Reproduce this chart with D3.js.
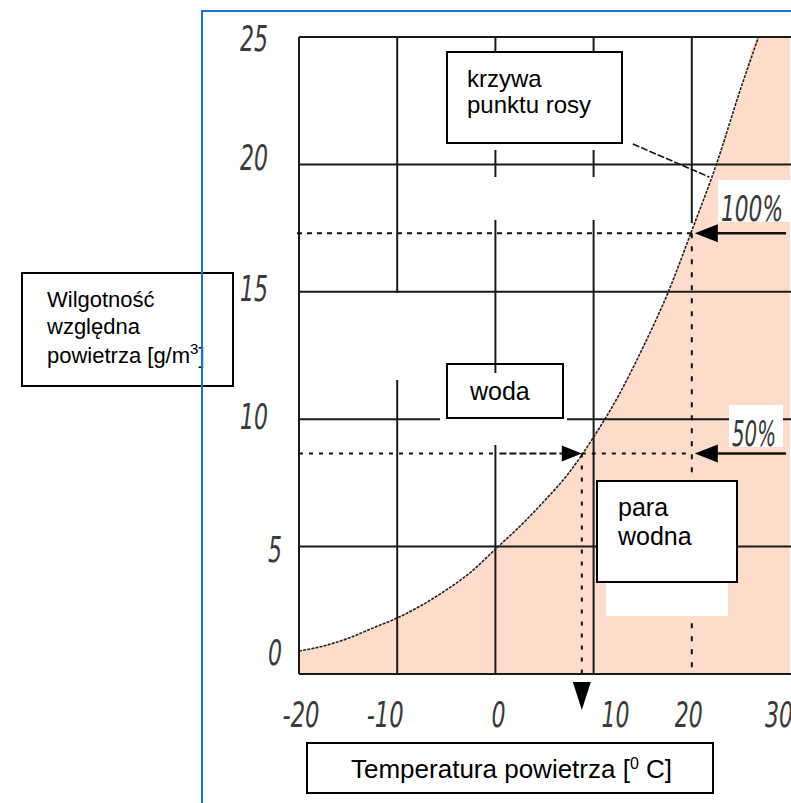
<!DOCTYPE html>
<html>
<head>
<meta charset="utf-8">
<script src="https://cdn.jsdelivr.net/npm/d3@7"></script>
<style>
  body { margin: 0; background: #fff; }
  svg { display: block; }
  .box { fill: #fff; stroke: #000; stroke-width: 2; }
  .boxtext { font-family: "Liberation Sans", Arial, sans-serif; font-size: 24px; fill: #000; }
  .num { font-family: "Liberation Sans Narrow", "DejaVu Sans Condensed", sans-serif;
         font-style: italic; font-size: 35px; fill: #3a3a3a; }
</style>
</head>
<body>
<div id="chart"></div>
<script>
// krzywa punktu rosy - odczyt z wykresu
var tempC      = [-20, -17.5, -15, -12.5, -10, -7.5, -5, -2.5, 0, 2.5, 5, 7.5, 10, 12.5, 15, 17.5, 20, 22.5, 25, 26.8];
var saturation = [0.9, 1.1, 1.4, 1.8, 2.2, 2.7, 3.3, 4.0, 4.9, 5.8, 6.8, 7.9, 9.3, 10.9, 12.8, 14.9, 17.4, 20.0, 23.0, 25.0];

var xTicks = [-20, -10, 0, 10, 20, 30];
var yTicks = [0, 5, 10, 15, 20, 25];

var airTemp = 20;          // temperatura powietrza w przykladzie
var dewTemp = 8.8;         // punkt rosy przy 50%
var levels = [17.3, 8.65]; // 100% i 50% przy 20 C
var levelLabels = ["100%", "50%"];

var W = 791, H = 803;

var svg = d3.select("#chart").append("svg")
    .attr("width", W)
    .attr("height", H);

var x = d3.scaleLinear().domain([-20, 30]).range([299, 790]);
var y = d3.scaleLinear().domain([0, 25]).range([674, 37]);

// blue frame
svg.append("path")
    .attr("d", "M202,803 L202,11 L791,11")
    .attr("fill", "none")
    .attr("stroke", "#1874cd")
    .attr("stroke-width", 2);

// fill under the curve (plus the corner past the top)
var pts = tempC.map(function(t, i) { return [t, saturation[i]]; });
var areaPts = pts.concat([[30, 25]]);

svg.append("path")
    .datum(areaPts)
    .attr("fill", "#fddccb")
    .attr("d", d3.area()
        .x(function(d) { return x(d[0]); })
        .y0(y(0))
        .y1(function(d) { return y(d[1]); })
        .curve(d3.curveMonotoneX));

// grid
var grid = svg.append("g")
    .attr("stroke", "#1a1a1a")
    .attr("stroke-width", 2);

grid.selectAll(".hline")
    .data(yTicks)
    .enter().append("line")
    .attr("x1", x(-20)).attr("x2", W)
    .attr("y1", function(d) { return y(d); })
    .attr("y2", function(d) { return y(d); });

grid.selectAll(".vline")
    .data(xTicks.filter(function(d) { return d < airTemp; }))
    .enter().append("line")
    .attr("x1", function(d) { return x(d); })
    .attr("x2", function(d) { return x(d); })
    .attr("y1", y(25)).attr("y2", y(0));

grid.append("line")
    .attr("x1", x(airTemp)).attr("x2", x(airTemp))
    .attr("y1", y(25)).attr("y2", y(levels[0]) - 10);

// white patches covering the grid (as in the original)
var masks = svg.append("g").attr("fill", "#fff");
masks.append("rect").attr("x", 390).attr("y", 293).attr("width", 16).attr("height", 87);
masks.append("rect").attr("x", 440).attr("y", 143).attr("width", 190).attr("height", 7);
masks.append("rect").attr("x", 440).attr("y", 177).attr("width", 190).attr("height", 43);
masks.append("rect").attr("x", 440).attr("y", 373).attr("width", 127).attr("height", 72);

// dew point curve
svg.append("path")
    .datum(pts)
    .attr("fill", "none")
    .attr("stroke", "#222")
    .attr("stroke-width", 1.6)
    .attr("stroke-dasharray", "3,1.2")
    .attr("d", d3.line()
        .x(function(d) { return x(d[0]); })
        .y(function(d) { return y(d[1]); })
        .curve(d3.curveMonotoneX));

// dotted guide lines
var guides = svg.append("g")
    .attr("stroke", "#111")
    .attr("stroke-width", 2)
    .attr("fill", "none");

guides.append("line")
    .attr("x1", x(-20) - 2).attr("x2", x(airTemp))
    .attr("y1", y(levels[0])).attr("y2", y(levels[0]))
    .attr("stroke-dasharray", "5,5");

guides.append("line")
    .attr("x1", x(airTemp)).attr("x2", x(airTemp))
    .attr("y1", y(levels[0])).attr("y2", y(0))
    .attr("stroke-dasharray", "5,8");

guides.append("line")
    .attr("x1", x(-20)).attr("x2", x(0))
    .attr("y1", y(levels[1])).attr("y2", y(levels[1]))
    .attr("stroke-dasharray", "4,6");

guides.append("line")
    .attr("x1", x(0) + 4).attr("x2", x(dewTemp) - 18)
    .attr("y1", y(levels[1])).attr("y2", y(levels[1]))
    .attr("stroke-dasharray", "7,3");

guides.append("line")
    .attr("x1", x(dewTemp)).attr("x2", x(airTemp))
    .attr("y1", y(levels[1])).attr("y2", y(levels[1]))
    .attr("stroke-dasharray", "4,6");

guides.append("line")
    .attr("x1", x(dewTemp)).attr("x2", x(dewTemp))
    .attr("y1", y(levels[1])).attr("y2", y(0))
    .attr("stroke-dasharray", "4,8");

// arrows from the right
var arrows = svg.append("g");
levels.forEach(function(lv) {
  var tip = x(airTemp) + 3, yy = y(lv);
  arrows.append("line")
      .attr("x1", tip + 15).attr("x2", x(29.6))
      .attr("y1", yy).attr("y2", yy)
      .attr("stroke", "#111").attr("stroke-width", 2.5);
  arrows.append("path")
      .attr("d", "M" + tip + "," + yy + " L" + (tip + 23) + "," + (yy - 9) + " L" + (tip + 23) + "," + (yy + 9) + "Z")
      .attr("fill", "#000");
});

// arrow to the curve and marker under the axis
var dx0 = x(dewTemp), dy0 = y(levels[1]);
arrows.append("path")
    .attr("d", "M" + dx0 + "," + dy0 + " L" + (dx0 - 20) + "," + (dy0 - 8) + " L" + (dx0 - 20) + "," + (dy0 + 8) + "Z")
    .attr("fill", "#000");
arrows.append("path")
    .attr("d", "M" + (dx0 - 9) + ",682 L" + (dx0 + 9) + ",682 L" + dx0 + ",710Z")
    .attr("fill", "#000");

// percent labels
var pctBg = [[718, 180, 72, 42], [729, 405, 54, 42]];
levelLabels.forEach(function(lbl, i) {
  var b = pctBg[i];
  svg.append("rect").attr("x", b[0]).attr("y", b[1]).attr("width", b[2]).attr("height", b[3]).attr("fill", "#fff");
  svg.append("text")
      .attr("class", "num")
      .attr("x", b[0] + 3)
      .attr("y", b[1] + b[3] - 1)
      .attr("textLength", b[2] - 10)
      .attr("lengthAdjust", "spacingAndGlyphs")
      .text(lbl);
});

// pointer from the curve label box
svg.append("line")
    .attr("x1", x(14)).attr("y1", y(20.8))
    .attr("x2", x(21.8)).attr("y2", y(19.5))
    .attr("stroke", "#111").attr("stroke-width", 1.6)
    .attr("stroke-dasharray", "7,2");

// text boxes
function textBox(bx, by, bw, bh, lines, tx, ty, lh) {
  svg.append("rect").attr("class", "box")
      .attr("x", bx).attr("y", by).attr("width", bw).attr("height", bh);
  var t = svg.append("text").attr("class", "boxtext");
  lines.forEach(function(l, i) {
    t.append("tspan").attr("x", tx).attr("y", ty + i * lh).text(l);
  });
  return t;
}

textBox(447, 52, 175, 91, ["krzywa", "punktu rosy"], 467, 87, 26);
svg.append("rect").attr("class", "box").attr("x", 447).attr("y", 364).attr("width", 116).attr("height", 54).style("fill", "none");
svg.append("text").attr("class", "boxtext").attr("x", 470).attr("y", 400).style("font-size", "25px").text("woda");

svg.append("rect").attr("x", 606).attr("y", 582).attr("width", 122).attr("height", 34).attr("fill", "#fff");
textBox(597, 481, 140, 101, ["para", "wodna"], 618, 516, 29).style("font-size", "25px");

// y axis title
svg.append("rect").attr("class", "box")
    .attr("x", 22).attr("y", 273).attr("width", 211).attr("height", 113).style("fill", "none");
var yt = svg.append("text").attr("class", "boxtext").style("font-size", "22px");
yt.append("tspan").attr("x", 47).attr("y", 307).text("Wilgotność");
yt.append("tspan").attr("x", 47).attr("y", 334).text("względna");
yt.append("tspan").attr("x", 47).attr("y", 363).text("powietrza [g/m");
yt.append("tspan").attr("dy", -9).style("font-size", "15px").text("3");
yt.append("tspan").attr("dy", 9).text("]");

// redraw the blue line over the title box, as in the picture
svg.append("line")
    .attr("x1", 202).attr("x2", 202).attr("y1", 11).attr("y2", H)
    .attr("stroke", "#1874cd").attr("stroke-width", 2);

// x axis title
svg.append("rect").attr("class", "box")
    .attr("x", 307).attr("y", 743).attr("width", 406).attr("height", 50);
var xt = svg.append("text").attr("class", "boxtext")
    .attr("x", 351).attr("y", 778).style("font-size", "26px");
xt.append("tspan").text("Temperatura powietrza [");
xt.append("tspan").attr("dy", -9).style("font-size", "16px").text("0");
xt.append("tspan").attr("dy", 9).text(" C]");

// tick labels
function numWidth(s) {
  return s.replace("-", "").length * 14 + (s.charAt(0) === "-" ? 9 : 0);
}
var xNudge = { "-20": 2, "-10": -12, "0": 3, "10": 22, "20": -3, "30": -11 };
svg.append("g").selectAll("text")
    .data(xTicks)
    .enter().append("text")
    .attr("class", "num")
    .attr("text-anchor", "middle")
    .attr("x", function(d) { return x(d) + xNudge[d]; })
    .attr("y", 727)
    .attr("textLength", function(d) { return numWidth(String(d)); })
    .attr("lengthAdjust", "spacingAndGlyphs")
    .text(function(d) { return d; });

var yNudge = { "0": -22, "5": 2, "10": -3, "15": -4, "20": -7, "25": 1 };
svg.append("g").selectAll("text")
    .data(yTicks)
    .enter().append("text")
    .attr("class", "num")
    .attr("text-anchor", "middle")
    .attr("x", function(d) { return d >= 10 ? 254 : 275; })
    .attr("y", function(d) { return y(d) + yNudge[d] + 13; })
    .attr("textLength", function(d) { return numWidth(String(d)); })
    .attr("lengthAdjust", "spacingAndGlyphs")
    .text(function(d) { return d; });
</script>
</body>
</html>
